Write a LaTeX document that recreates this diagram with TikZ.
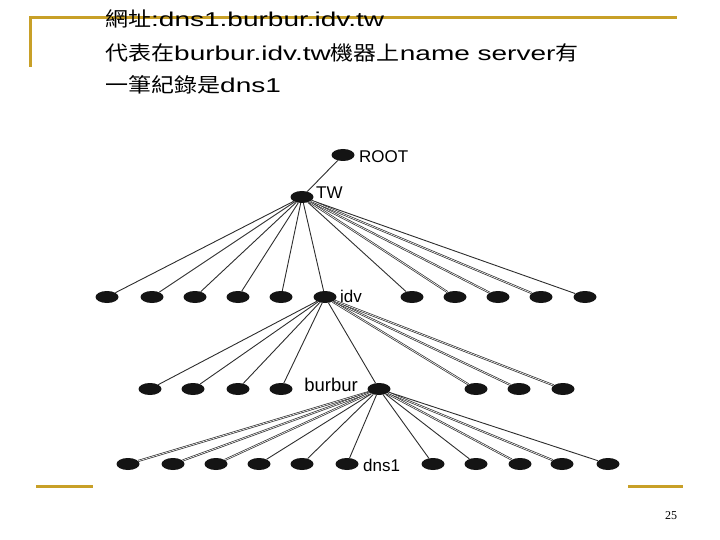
\documentclass[tikz,border=0pt]{standalone}
\usepackage{fontspec}
\usetikzlibrary{shapes.geometric}
\newfontfamily\latf[FakeStretch=1.4]{Liberation Sans}
\newfontfamily\cjk[FakeStretch=1.15]{Noto Sans CJK TC}
\newfontfamily\labf{Liberation Sans}
\newfontfamily\pgf{Liberation Serif}
\definecolor{gold}{RGB}{200,160,40}
\definecolor{edgec}{RGB}{45,45,45}
\tikzset{
  blob/.style={ellipse, fill=black!92, draw=none, minimum width=23pt, minimum height=12pt, inner sep=0pt},
  edge/.style={draw=edgec, line width=0.9pt},
  dbl/.style={draw=edgec, line width=0.7pt, double=white, double distance=0.6pt},
  goldline/.style={draw=gold, line width=3pt},
  lbl/.style={font=\labf\fontsize{17}{20}\selectfont, inner sep=0pt},
  title/.style={anchor=base west, inner sep=0pt},
}
\begin{document}
\begin{tikzpicture}[x=1pt,y=-1pt]
\useasboundingbox (0,0) rectangle (720,540);
% frame
\draw[goldline] (29,18) -- (677,18);
\draw[goldline] (30,16.5) -- (30,67);
\draw[goldline] (36,486) -- (93,486);
\draw[goldline] (628,486) -- (683,486);
% title text
\node[title] (t1) at (105,27) {{\cjk\fontsize{20}{24}\selectfont 網址}{\latf\fontsize{20}{24}\selectfont :dns1.burbur.idv.tw}};
\node[title] (t2) at (105,61) {{\cjk\fontsize{20}{24}\selectfont 代表在}{\latf\fontsize{20}{24}\selectfont burbur.idv.tw}{\cjk\fontsize{20}{24}\selectfont 機器上}{\latf\fontsize{20}{24}\selectfont name server}{\cjk\fontsize{20}{24}\selectfont 有}};
\node[title] (t3) at (105,93) {{\cjk\fontsize{20}{24}\selectfont 一筆紀錄是}{\latf\fontsize{20}{24}\selectfont dns1}};
% nodes
\node[blob] (root) at (343,155) {};
\node[blob] (tw) at (302,197) {};
\foreach \n/\x in {a1/107,a2/152,a3/195,a4/238,a5/281,idv/325,a7/412,a8/455,a9/498,a10/541,a11/585}
  \node[blob] (\n) at (\x,297) {};
\foreach \n/\x in {b1/150,b2/193,b3/238,b4/281,burbur/379,b6/476,b7/519,b8/563}
  \node[blob] (\n) at (\x,389) {};
\foreach \n/\x in {c1/128,c2/173,c3/216,c4/259,c5/302,dns/347,c7/433,c8/476,c9/520,c10/562,c11/608}
  \node[blob] (\n) at (\x,464) {};
% labels
\node[lbl, anchor=west] (lroot) at (359,157) {ROOT};
\node[lbl, anchor=west] (ltw) at (316,193) {TW};
\node[lbl, anchor=west] (lidv) at (340,296) {idv};
\node[lbl, anchor=east, font=\labf\fontsize{18.5}{20}\selectfont] (lbur) at (358,385) {burbur};
\node[lbl, anchor=west] (ldns) at (363,465) {dns1};
% edges
\path[edge] (root) -- (tw);
\foreach \n in {a1,a2,a3,a4,a5,idv,a7,a11}
  \path[edge] (tw) -- (\n);
\foreach \n in {a8,a9,a10}
  \path[dbl] (tw) -- (\n);
\foreach \n in {b1,b2,b3,b4,burbur}
  \path[edge] (idv) -- (\n);
\foreach \n in {b6,b7,b8}
  \path[dbl] (idv) -- (\n);
\foreach \n in {c4,c5,dns,c7,c8,c11}
  \path[edge] (burbur) -- (\n);
\foreach \n in {c1,c2,c3,c9,c10}
  \path[dbl] (burbur) -- (\n);
% page number
\node[inner sep=0pt, font=\pgf\fontsize{12}{14}\selectfont] (pnum) at (671,516) {25};
\end{tikzpicture}
\end{document}
